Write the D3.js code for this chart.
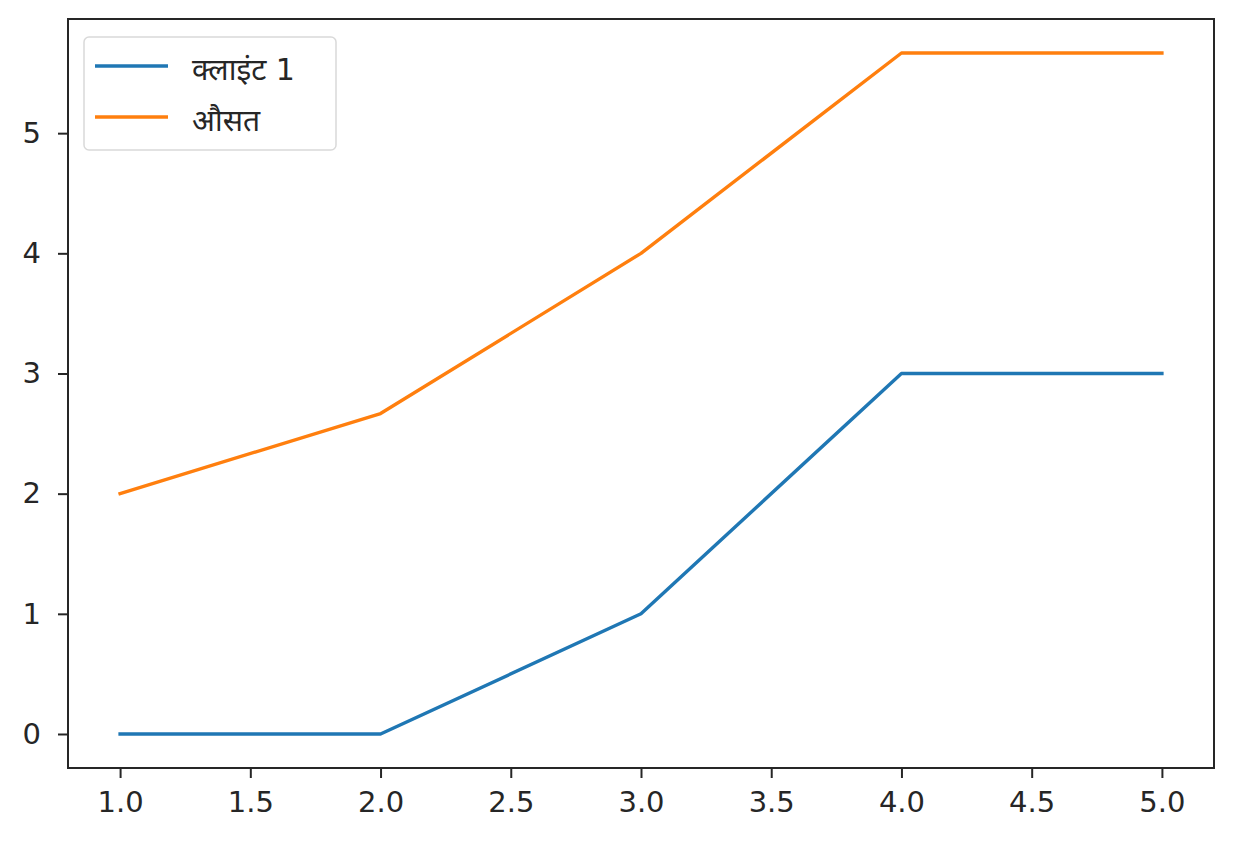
<!DOCTYPE html>
<html lang="hi">
<head>
<meta charset="UTF-8">
<title>क्लाइंट 1</title>
<script src="https://cdnjs.cloudflare.com/ajax/libs/d3/7.8.5/d3.min.js"></script>
<style>
  body, html { margin: 0; padding: 0; background: #fff; overflow: hidden; }
  svg text { font-family: "DejaVu Sans", "Noto Sans", sans-serif; fill: #262626; }
</style>
</head>
<body>
<div id="chart"></div>
<script>
// data
const xValues = [1, 2, 3, 4, 5];
const client1 = [0, 0, 1, 3, 3];
const average = [2, 2.667, 4, 5.667, 5.667];
const seriesNames = ["क्लाइंट 1", "औसत"];
const xTicks = [1.0, 1.5, 2.0, 2.5, 3.0, 3.5, 4.0, 4.5, 5.0];
const yTicks = [0, 1, 2, 3, 4, 5];

const width = 1238, height = 848;
const margin = {left: 68, right: 24, top: 19, bottom: 80};

const svg = d3.select("#chart").append("svg")
    .attr("width", width).attr("height", height);

const x = d3.scaleLinear().domain([0.8, 5.2]).range([margin.left, width - margin.right]);
const y = d3.scaleLinear().domain([-0.283, 5.95]).range([height - margin.bottom, margin.top]);

const colors = ["#1f77b4", "#ff7f0e"];
const series = [client1, average];

const line = d3.line().x((d, i) => x(xValues[i])).y(d => y(d));

series.forEach((s, k) => {
    svg.append("path")
        .datum(s)
        .attr("d", line)
        .attr("fill", "none")
        .attr("stroke", colors[k])
        .attr("stroke-width", 3.4)
        .attr("stroke-linejoin", "round")
        .attr("stroke-linecap", "square");
});

// axes
const xAxis = svg.append("g")
    .attr("transform", `translate(0,${height - margin.bottom})`)
    .call(d3.axisBottom(x).tickValues(xTicks).tickFormat(d3.format(".1f")).tickSize(10).tickPadding(13));
const yAxis = svg.append("g")
    .attr("transform", `translate(${margin.left},0)`)
    .call(d3.axisLeft(y).tickValues(yTicks).tickFormat(d3.format("d")).tickSize(10).tickPadding(17));

[xAxis, yAxis].forEach(a => {
    a.select(".domain").remove();
    a.selectAll(".tick line").attr("stroke", "#262626").attr("stroke-width", 2);
    a.selectAll(".tick text").style("font-size", "29px").attr("fill", "#262626");
});

// frame
svg.append("rect")
    .attr("x", margin.left).attr("y", margin.top)
    .attr("width", width - margin.left - margin.right)
    .attr("height", height - margin.top - margin.bottom)
    .attr("fill", "none").attr("stroke", "#262626").attr("stroke-width", 2);

// legend
const legend = svg.append("g").attr("transform", "translate(84,37)");
legend.append("rect")
    .attr("width", 252).attr("height", 113).attr("rx", 5)
    .attr("fill", "#fff").attr("fill-opacity", 0.8)
    .attr("stroke", "#d9d9d9").attr("stroke-width", 1.5);
seriesNames.forEach((name, k) => {
    const yy = 29 + k * 51;
    legend.append("line")
        .attr("x1", 11).attr("x2", 84).attr("y1", yy).attr("y2", yy)
        .attr("stroke", colors[k]).attr("stroke-width", 3.4);
    legend.append("text")
        .attr("x", 108).attr("y", yy + 14)
        .style("font-size", "30px")
        .text(name);
});
</script>
</body>
</html>
